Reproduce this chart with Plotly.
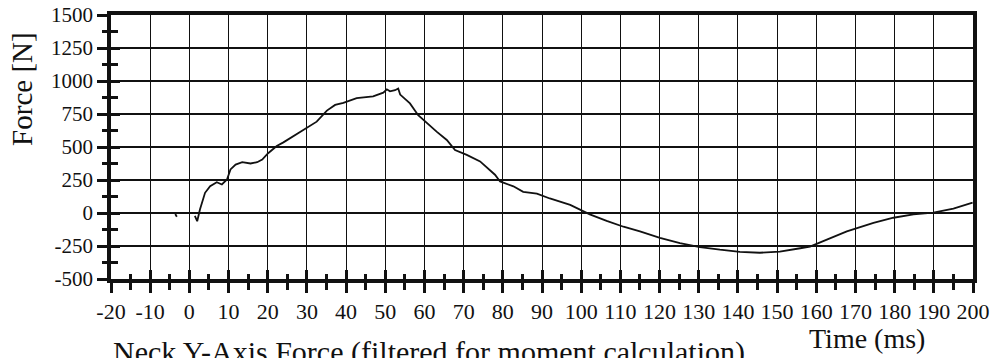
import plotly.graph_objects as go

# Neck Y-axis force, filtered for moment calculation
time_ms = [-3.6, -3.2, None,
           1.4, 2.0, 2.7, 4.0, 5.3, 7.0, 8.3, 9.6, 10.5, 11.8, 13.5, 15.6, 17.3, 18.6,
           20.1, 22.3, 24.0, 27.4, 29.9, 32.5, 35.1, 37.2, 39.3, 42.7, 46.9, 49.5,
           50.4, 51.2, 52.5, 53.3, 53.8, 56.3, 58.4, 60.6, 63.1, 65.7, 67.8, 70.8,
           74.2, 78.0, 79.3, 82.7, 85.2, 88.7, 92.0, 97.2, 99.7, 102.2, 106.5,
           110.8, 115.0, 120.1, 125.2, 130.3, 135.4, 140.5, 145.6, 150.7, 155.9,
           158.4, 162.7, 167.8, 174.6, 179.7, 184.8, 189.9, 195.0, 199.9]
force_n = [-8, -28, None,
           -22, -62, 27, 153, 203, 233, 216, 254, 330, 367, 385, 375, 385, 405,
           453, 508, 535, 598, 649, 692, 776, 819, 835, 871, 883, 912,
           937, 922, 930, 943, 897, 830, 741, 679, 616, 553, 477, 440,
           391, 290, 239, 202, 160, 147, 110, 61, 28, -10, -59,
           -104, -139, -189, -228, -258, -278, -294, -301, -293, -267,
           -254, -202, -139, -75, -36, -10, 3, 34, 78]

x_tick_vals = [-20, -10, 0, 10, 20, 30, 40, 50, 60, 70, 80, 90, 100, 110, 120,
               130, 140, 150, 160, 170, 180, 190, 200]
x_tick_text = ["-20", "-10", "0", "10", "20", "30", "40", "50", "60", "70", "80",
               "90", "100", "110", "120", "130", "140", "150", "160", "170",
               "180", "190", "200"]
y_tick_vals = [-500, -250, 0, 250, 500, 750, 1000, 1250, 1500]
y_tick_text = ["-500", "-250", "0", "250", "500", "750", "1000", "1250", "1500"]

x_range = [-20, 200]
y_range = [-500, 1500]

SERIF = "Liberation Serif"
INK = "#111111"

fig = go.Figure()
fig.add_trace(go.Scatter(
    x=time_ms, y=force_n, mode="lines",
    line=dict(color=INK, width=1.8), connectgaps=False,
    hoverinfo="skip", showlegend=False,
))
# same series bound to the overlay axes so their inward ticks get drawn
fig.add_trace(go.Scatter(
    x=time_ms, y=force_n, mode="none", xaxis="x2", yaxis="y2",
    hoverinfo="skip", showlegend=False,
))

fig.update_layout(
    width=992, height=358,
    margin=dict(l=111, r=19, t=15, b=79, pad=0, autoexpand=False),
    paper_bgcolor="white", plot_bgcolor="rgba(0,0,0,0)",
    font=dict(family=SERIF, color=INK),
    showlegend=False,
    # main axes: gridlines, labels, outward half of the crossing ticks
    xaxis=dict(
        range=x_range, tickmode="array", tickvals=x_tick_vals, ticktext=x_tick_text,
        tickangle=0, tickfont=dict(size=22, family=SERIF, color=INK),
        ticks="outside", ticklen=10, tickwidth=3, tickcolor=INK,
        minor=dict(dtick=5, tick0=-20, ticks="outside", ticklen=7, tickwidth=3,
                   tickcolor=INK, showgrid=False),
        showgrid=True, gridcolor=INK, gridwidth=1.4,
        showline=True, linecolor=INK, linewidth=3.5, mirror=True,
        zeroline=False, fixedrange=True, automargin=False,
    ),
    yaxis=dict(
        range=y_range, tickmode="array", tickvals=y_tick_vals, ticktext=y_tick_text,
        tickfont=dict(size=21, family=SERIF, color=INK),
        ticks="outside", ticklen=10, tickwidth=2.5, tickcolor=INK,
        minor=dict(dtick=125, tick0=0, ticks="outside", ticklen=5, tickwidth=2.5,
                   tickcolor=INK, showgrid=False),
        showgrid=True, gridcolor=INK, gridwidth=1.8,
        showline=True, linecolor=INK, linewidth=3.5, mirror=True,
        zeroline=False, fixedrange=True, automargin=False,
    ),
    # overlay axes carrying the inward half of the ticks
    xaxis2=dict(
        range=x_range, overlaying="x", side="bottom", anchor="y2",
        tickmode="array", tickvals=x_tick_vals, showticklabels=False,
        ticks="inside", ticklen=9, tickwidth=3, tickcolor=INK,
        minor=dict(dtick=5, tick0=-20, ticks="inside", ticklen=5, tickwidth=3,
                   tickcolor=INK, showgrid=False),
        showgrid=False, showline=False, zeroline=False, fixedrange=True,
        automargin=False,
    ),
    yaxis2=dict(
        range=y_range, overlaying="y", side="left", anchor="x2",
        tickmode="array", tickvals=y_tick_vals, showticklabels=False,
        ticks="inside", ticklen=9, tickwidth=2.5, tickcolor=INK,
        minor=dict(dtick=125, tick0=0, ticks="inside", ticklen=7, tickwidth=2.5,
                   tickcolor=INK, showgrid=False),
        showgrid=False, showline=False, zeroline=False, fixedrange=True,
        automargin=False,
    ),
)

fig.add_annotation(
    text="Force [N]", textangle=-90, showarrow=False,
    xref="paper", yref="paper", x=-0.1033, y=0.72,
    xanchor="center", yanchor="middle",
    font=dict(family=SERIF, size=29, color=INK),
)
fig.add_annotation(
    text="Time (ms)", showarrow=False,
    xref="paper", yref="paper", x=0.8776, y=-0.224,
    xanchor="center", yanchor="middle",
    font=dict(family=SERIF, size=28, color=INK),
)
fig.add_annotation(
    text="Neck Y-Axis Force (filtered for moment calculation)", showarrow=False,
    xref="paper", yref="paper", x=0.0, y=-0.276,
    xanchor="left", yanchor="middle",
    font=dict(family=SERIF, size=30, color=INK),
)

fig.write_html("out.html")
